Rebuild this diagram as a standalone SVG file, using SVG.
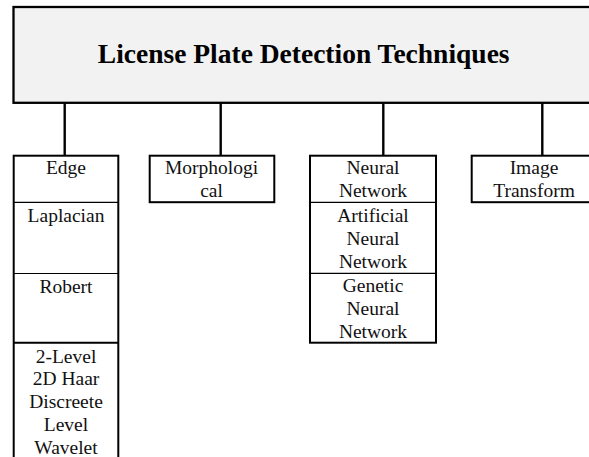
<svg xmlns="http://www.w3.org/2000/svg" width="589" height="457" viewBox="0 0 589 457">
<style>
.box{fill:#ffffff;stroke:#000;stroke-width:2}
.div{stroke:#000;stroke-width:1.2}
.divb{stroke:#000;stroke-width:2}
.t{font-family:"Liberation Serif","Times New Roman",serif;font-size:19.5px;text-anchor:middle;fill:#111}
.title{font-family:"Liberation Serif","Times New Roman",serif;font-size:27.5px;font-weight:bold;text-anchor:middle;fill:#000}
.conn{stroke:#000;stroke-width:2.4;fill:none}
</style>
<rect width="589" height="457" fill="#ffffff"/>
<g id="root">
<rect x="13.5" y="7" width="590" height="95.8" fill="#f2f2f2" stroke="#000" stroke-width="2.3"/>
<text class="title" x="303.7" y="63.3">License Plate Detection Techniques</text>
</g>
<g id="connectors">
<line class="conn" x1="64.7" y1="103" x2="64.7" y2="155"/>
<line class="conn" x1="220.7" y1="103" x2="220.7" y2="155"/>
<line class="conn" x1="383.3" y1="103" x2="383.3" y2="155"/>
<line class="conn" x1="542.3" y1="103" x2="542.3" y2="155"/>
</g>
<g id="edge">
<rect class="box" x="13.7" y="155.7" width="104.6" height="310"/>
<line class="div" x1="13.7" y1="202.3" x2="118.3" y2="202.3"/>
<line class="div" x1="13.7" y1="273.5" x2="118.3" y2="273.5"/>
<line class="divb" x1="13.7" y1="342.8" x2="118.3" y2="342.8"/>
<text class="t" x="66" y="174.3">Edge</text>
<text class="t" x="66" y="222.3">Laplacian</text>
<text class="t" x="66" y="293.3">Robert</text>
<text class="t" x="66" y="362.7">2-Level</text>
<text class="t" x="66" y="385.4">2D Haar</text>
<text class="t" x="66" y="408.2">Discreete</text>
<text class="t" x="66" y="431">Level</text>
<text class="t" x="66" y="453.7">Wavelet</text>
</g>
<g id="morphological">
<rect class="box" x="149.7" y="155.7" width="124.6" height="46.5"/>
<text class="t" x="211.5" y="174.3">Morphologi</text>
<text class="t" x="211.5" y="197.3">cal</text>
</g>
<g id="neural">
<rect class="box" x="310" y="155.7" width="126" height="187"/>
<line class="div" x1="310" y1="202.3" x2="436" y2="202.3"/>
<line class="div" x1="310" y1="273.3" x2="436" y2="273.3"/>
<text class="t" x="373" y="174.3">Neural</text>
<text class="t" x="373" y="197.3">Network</text>
<text class="t" x="373" y="221.7">Artificial</text>
<text class="t" x="373" y="245">Neural</text>
<text class="t" x="373" y="267.7">Network</text>
<text class="t" x="373" y="292.3">Genetic</text>
<text class="t" x="373" y="315">Neural</text>
<text class="t" x="373" y="337.7">Network</text>
</g>
<g id="image-transform">
<rect class="box" x="471.7" y="155.7" width="130" height="46.5"/>
<text class="t" x="534" y="174.3">Image</text>
<text class="t" x="534" y="197.3">Transform</text>
</g>
</svg>
